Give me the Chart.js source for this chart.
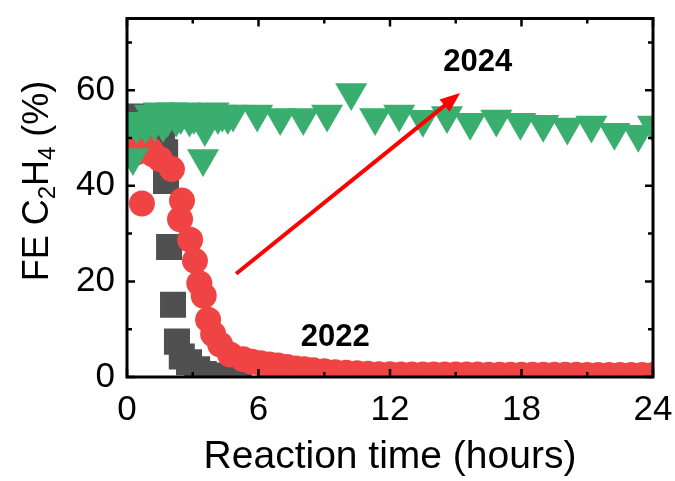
<!DOCTYPE html>
<html>
<head>
<meta charset="utf-8">
<script src="https://cdn.jsdelivr.net/npm/chart.js@4"></script>
<style>
  html, body { margin: 0; padding: 0; background: #fff; }
  #chart { display: block; }
</style>
</head>
<body>
<canvas id="chart" width="675" height="481"></canvas>
<script>
// axis ticks
const X_TICKS = [0, 6, 12, 18, 24];
const Y_TICKS = [0, 20, 40, 60];
const X_MINOR = [3, 9, 15, 21];
const Y_MINOR = [10, 30, 50, 70];

// 2022 sample, gray squares
const grayTime = [0.2, 0.5, 0.8, 1.1, 1.4, 1.6, 1.74, 1.78, 1.92, 2.1, 2.28, 2.5, 2.83, 3.2, 3.5, 3.9, 4.3, 4.7, 5.1];
const grayFE = [54.5, 54, 53, 52.5, 52, 50, 47, 41, 27.2, 15.1, 7.4, 4.3, 3.1, 1.6, 0.6, 0.3, 0.2, 0.2, 0.2];

// 2022 sample, red circles
const redTime = [0.2, 0.45, 0.68, 1.05, 1.19, 1.5, 2.05, 2.42, 2.51, 2.88, 3.1, 3.3, 3.5, 3.7, 3.93,
  4.25, 4.7, 5.3, 5.7, 6.1, 6.5, 6.9, 7.3, 7.7, 8.1, 8.5, 9.0, 9.5, 10, 10.5, 11, 11.5, 12, 12.5, 13,
  13.5, 14, 14.5, 15, 15.5, 16, 16.5, 17, 17.5, 18, 18.5, 19, 19.5, 20, 20.5, 21, 21.5, 22, 22.5, 23, 23.5, 24];
const redFE = [49.5, 47.0, 36.3, 47.6, 46.6, 45.6, 43.5, 33.0, 36.9, 28.7, 24.3, 19.6, 17.0, 12.0, 9.0,
  6.8, 4.7, 3.7, 3.2, 2.9, 2.6, 2.4, 2.1, 1.8, 1.6, 1.4, 1.2, 1.0, 0.9, 0.8, 0.7, 0.6, 0.55, 0.5, 0.5,
  0.5, 0.5, 0.5, 0.5, 0.5, 0.5, 0.45, 0.45, 0.45, 0.45, 0.45, 0.45, 0.45, 0.45, 0.45, 0.4, 0.4, 0.4, 0.4, 0.4, 0.4, 0.4];

// 2024 sample, green triangles
const greenTime = [0.1, 0.27, 0.45, 0.65, 0.85, 1.05, 1.25, 1.45, 1.65, 1.85, 2.05, 2.25, 2.45, 2.65, 2.85,
  3.05, 3.25, 3.47, 3.55, 3.75, 3.95, 4.15, 4.35, 4.6, 4.84, 5.94, 6.99, 8.04, 9.13, 10.23,
  11.32, 12.42, 13.5, 14.6, 15.66, 16.85, 17.95, 18.99, 20.09, 21.19, 22.24, 23.33, 24.0];
const greenFE = [53.0, 45.9, 52.5, 53.5, 52.5, 55.0, 53.0, 55.5, 52.8, 54.0, 55.5, 54.0, 54.5, 55.5, 54.0,
  54.5, 55.0, 45.7, 52.0, 54.5, 55.5, 54.5, 55.0, 54.5, 55.0, 55.0, 54.3, 54.3, 55.0, 59.5,
  54.3, 55.0, 53.9, 54.7, 53.3, 54.0, 53.3, 52.9, 52.3, 52.7, 51.2, 50.8, 52.7];

// annotations (data coords)
const ARROW_FROM = [4.98, 21.6];
const ARROW_TO = [15.2, 59.4];
const LABEL_2024 = [16.0, 65.8];
const LABEL_2022 = [9.5, 8.3];

const FONT = "'Liberation Sans', Arial, sans-serif";

const toPoints = (xs, ys) => xs.map((x, i) => ({ x, y: ys[i] }));

const decorPlugin = {
  id: "decor",
  afterDatasetsDraw(chart) {
    const { ctx, chartArea: a, scales: { x, y } } = chart;
    ctx.save();

    // arrow
    const x0 = x.getPixelForValue(ARROW_FROM[0]), y0 = y.getPixelForValue(ARROW_FROM[1]);
    const x1 = x.getPixelForValue(ARROW_TO[0]), y1 = y.getPixelForValue(ARROW_TO[1]);
    const ang = Math.atan2(y1 - y0, x1 - x0);
    const head = 20;
    ctx.strokeStyle = "#ff0000";
    ctx.fillStyle = "#ff0000";
    ctx.lineWidth = 4;
    ctx.beginPath();
    ctx.moveTo(x0, y0);
    ctx.lineTo(x1 - Math.cos(ang) * head * 0.8, y1 - Math.sin(ang) * head * 0.8);
    ctx.stroke();
    ctx.beginPath();
    ctx.moveTo(x1, y1);
    ctx.lineTo(x1 - head * Math.cos(ang) + 8 * Math.sin(ang), y1 - head * Math.sin(ang) - 8 * Math.cos(ang));
    ctx.lineTo(x1 - head * Math.cos(ang) - 8 * Math.sin(ang), y1 - head * Math.sin(ang) + 8 * Math.cos(ang));
    ctx.closePath();
    ctx.fill();

    // year labels
    ctx.fillStyle = "#000";
    ctx.font = "bold 31px " + FONT;
    ctx.textAlign = "center";
    ctx.textBaseline = "middle";
    ctx.fillText("2024", x.getPixelForValue(LABEL_2024[0]), y.getPixelForValue(LABEL_2024[1]));
    ctx.fillText("2022", x.getPixelForValue(LABEL_2022[0]), y.getPixelForValue(LABEL_2022[1]));

    // frame
    ctx.strokeStyle = "#000";
    ctx.lineWidth = 3;
    ctx.strokeRect(a.left, a.top, a.right - a.left, a.bottom - a.top);

    // inward ticks on all four sides
    ctx.lineWidth = 2.5;
    const xt = (v, len) => {
      const px = x.getPixelForValue(v);
      ctx.moveTo(px, a.bottom); ctx.lineTo(px, a.bottom - len);
      ctx.moveTo(px, a.top); ctx.lineTo(px, a.top + len);
    };
    const yt = (v, len) => {
      const py = y.getPixelForValue(v);
      ctx.moveTo(a.left, py); ctx.lineTo(a.left + len, py);
      ctx.moveTo(a.right, py); ctx.lineTo(a.right - len, py);
    };
    ctx.beginPath();
    X_TICKS.forEach(v => xt(v, 8));
    X_MINOR.forEach(v => xt(v, 5));
    Y_TICKS.forEach(v => yt(v, 8));
    Y_MINOR.forEach(v => yt(v, 5));
    ctx.stroke();
    ctx.restore();
  },
  afterDraw(chart) {
    // y title with subscripts
    const { ctx } = chart;
    const size = 36, sub = 24;
    const parts = [["FE C", size, 0], ["2", sub, 7], ["H", size, 0], ["4", sub, 7], [" (%)", size, 0]];
    ctx.save();
    ctx.translate(35, 181);
    ctx.rotate(-Math.PI / 2);
    ctx.fillStyle = "#000";
    ctx.textBaseline = "alphabetic";
    ctx.textAlign = "left";
    let total = 0;
    parts.forEach(p => { ctx.font = p[1] + "px " + FONT; total += ctx.measureText(p[0]).width; });
    let cx = -total / 2;
    const base = size * 0.36;
    parts.forEach(p => {
      ctx.font = p[1] + "px " + FONT;
      ctx.fillText(p[0], cx, base + p[2]);
      cx += ctx.measureText(p[0]).width;
    });
    ctx.restore();
  }
};

new Chart(document.getElementById("chart"), {
  type: "scatter",
  data: {
    datasets: [
      {
        label: "2024",
        data: toPoints(greenTime, greenFE),
        pointStyle: "triangle",
        rotation: 180,
        pointRadius: 18.5,
        pointHoverRadius: 18.5,
        backgroundColor: "#3aae6e",
        borderWidth: 0,
        order: 0,
        clip: 0
      },
      {
        label: "2022 red",
        data: toPoints(redTime, redFE),
        pointStyle: "circle",
        pointRadius: 13,
        pointHoverRadius: 13,
        backgroundColor: "#f04444",
        borderWidth: 0,
        order: 1,
        clip: 0
      },
      {
        label: "2022 gray",
        data: toPoints(grayTime, grayFE),
        pointStyle: "rect",
        pointRadius: 18.4,
        pointHoverRadius: 18.4,
        backgroundColor: "#505050",
        borderWidth: 0,
        order: 2,
        clip: 0
      }
    ]
  },
  options: {
    responsive: false,
    animation: false,
    events: [],
    layout: { padding: { top: 11, right: 22, left: 0, bottom: 0 } },
    plugins: { legend: { display: false }, tooltip: { enabled: false } },
    scales: {
      x: {
        type: "linear",
        min: 0,
        max: 24,
        grid: { display: false, drawTicks: false },
        border: { display: false },
        afterBuildTicks: (s) => { s.ticks = X_TICKS.map(v => ({ value: v })); },
        afterFit: (s) => { s.height = 104; s.paddingLeft = 0; s.paddingRight = 0; },
        ticks: { color: "#000", padding: 12, maxRotation: 0, font: { family: FONT, size: 35 } },
        title: {
          display: true,
          text: "Reaction time (hours)",
          color: "#000",
          font: { family: FONT, size: 39 },
          padding: { top: 0, bottom: 0 }
        }
      },
      y: {
        type: "linear",
        min: 0,
        max: 75,
        grid: { display: false, drawTicks: false },
        border: { display: false },
        afterBuildTicks: (s) => { s.ticks = Y_TICKS.map(v => ({ value: v })); },
        afterFit: (s) => { s.width = 127; s.paddingTop = 0; s.paddingBottom = 0; },
        ticks: { color: "#000", padding: 12, font: { family: FONT, size: 35 } }
      }
    }
  },
  plugins: [decorPlugin]
});
</script>
</body>
</html>
